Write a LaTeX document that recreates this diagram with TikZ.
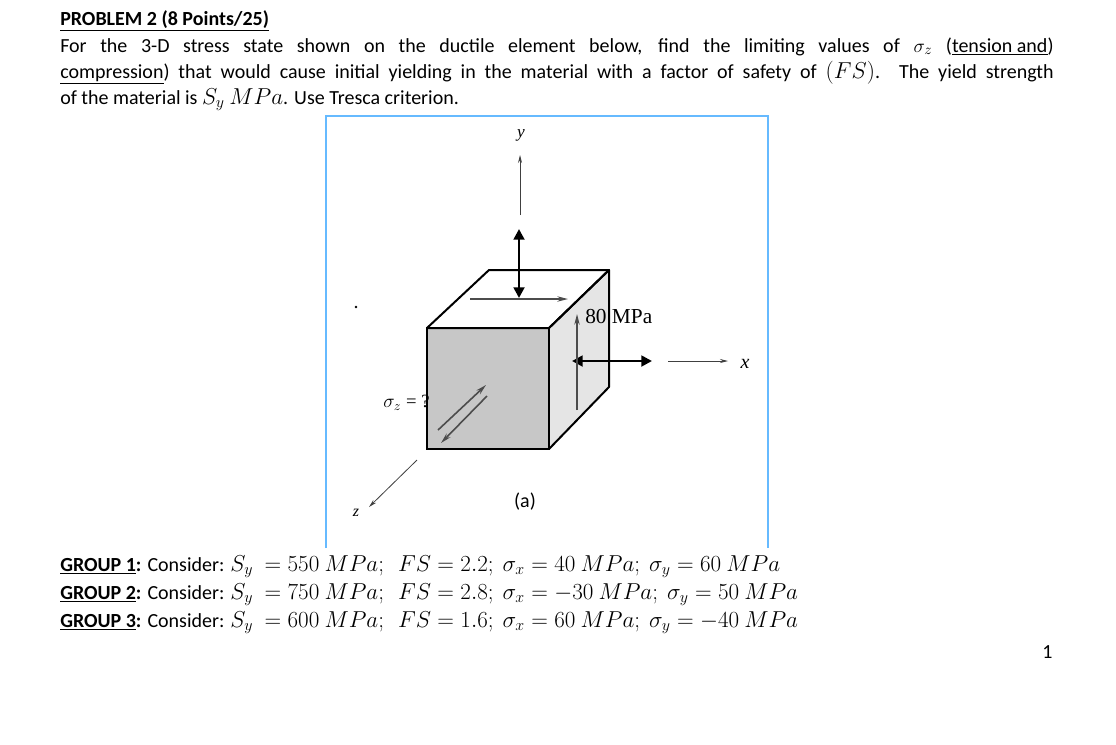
\documentclass[tikz,border=0pt]{standalone}
\usepackage{fontspec}
\setmainfont{Carlito}
\newfontfamily\figfont{Liberation Serif}
\usetikzlibrary{arrows.meta}
\newcommand{\myul}[1]{\underline{#1}}
\newcommand{\mybigmath}[1]{{\fontsize{17}{18}\selectfont$#1$}}
\begin{document}
\begin{tikzpicture}[x=0.75pt,y=-0.75pt,
  txt/.style={inner sep=0pt,anchor=base west,font=\fontsize{15}{18}\selectfont},
  thin/.style={draw=black!75,line width=0.6pt,-{Stealth[length=6pt,width=3pt]}},
  thick2/.style={draw=black,line width=2.2pt,{Triangle[length=8pt,width=8pt]}-{Triangle[length=8pt,width=8pt]}},
  grayarr/.style={draw=black!70,line width=1.2pt,-{Stealth[length=8pt,width=4pt]}},
  fig/.style={inner sep=0pt,font=\figfont\fontsize{14}{15}\selectfont}]
\useasboundingbox (0,0) rectangle (1116,744);
\fill[white] (0,0) rectangle (1116,744);
% text
\node[txt] (title) at (60,25) {\textbf{\myul{PROBLEM 2 (8 Points/25)}}};
\node[txt] (l1) at (60,52) {\makebox[745pt][s]{For the 3-D stress state shown on the ductile element below, find the limiting values of $\sigma_z$ (\myul{tension and})}};
\node[txt] (l2) at (60,78) {\makebox[745pt][s]{\myul{compression}) that would cause initial yielding in the material with a factor of safety of \mybigmath{(FS)}. The yield strength}};
\node[txt] (l3) at (60,104) {of the material is \mybigmath{S_y} \mybigmath{MPa}. Use Tresca criterion.};
\node[txt] (g1) at (60,571) {\textbf{\myul{GROUP 1}:} Consider: \mybigmath{S_y\ =550\ MPa;\ \ FS=2.2;\ \sigma_x=40\ MPa;\ \sigma_y=60\ MPa}};
\node[txt] (g2) at (60,599) {\textbf{\myul{GROUP 2}:} Consider: \mybigmath{S_y\ =750\ MPa;\ \ FS=2.8;\ \sigma_x=-30\ MPa;\ \sigma_y=50\ MPa}};
\node[txt] (g3) at (60,627) {\textbf{\myul{GROUP 3}:} Consider: \mybigmath{S_y\ =600\ MPa;\ \ FS=1.6;\ \sigma_x=60\ MPa;\ \sigma_y=-40\ MPa}};
\node[txt] (pg) at (1042,658) {1};
% figure frame
\draw[color=blue!45!cyan!60,line width=1pt] (326,548) -- (326,116) -- (768,116) -- (768,548);
% cube
\coordinate (A) at (427,328); \coordinate (B) at (549,328);
\coordinate (C) at (549,449); \coordinate (D) at (427,449);
\coordinate (E) at (489,270); \coordinate (F) at (609,270); \coordinate (G) at (609,387);
\fill[black!10] (B) -- (F) -- (G) -- (C) -- cycle;
\fill[black!22] (A) rectangle (C);
\draw[line width=1.5pt,line join=round] (A) -- (E) -- (F) -- (B) -- cycle;
\draw[line width=1.5pt,line join=round] (B) -- (F) -- (G) -- (C);
\draw[line width=1.8pt] (A) rectangle (C);
% axes
\coordinate (y0) at (520,215); \coordinate (y1) at (520,155);
\draw[thin] (y0) -- (y1);
\node[fig,font=\figfont\itshape\fontsize{13}{15}\selectfont] (ylab) at (521,135) {y};
\coordinate (x0) at (668,361); \coordinate (x1) at (728,361);
\draw[thin] (x0) -- (x1);
\node[fig,font=\figfont\itshape\fontsize{15}{15}\selectfont] (xlab) at (745,364) {x};
\coordinate (z0) at (417,460); \coordinate (z1) at (369,507);
\draw[thin] (z0) -- (z1);
\node[fig,font=\figfont\itshape\fontsize{12}{15}\selectfont] (zlab) at (356,513) {z};
\node[fig,font=\fontsize{15}{15}\selectfont] (alab) at (525,502) {(a)};
\node[fig,font=\figfont\fontsize{16}{16}\selectfont,anchor=west] (mpa) at (585,316) {80 MPa};
\node[fig,anchor=west] (sz) at (383,403) {$\sigma_z$ = ?};
\fill (356,307) circle (1pt);
% stress arrows
\coordinate (v0) at (519,298); \coordinate (v1) at (519,229);
\draw[thick2] (v0) -- (v1);
\coordinate (h0) at (572,361); \coordinate (h1) at (652,361);
\draw[thick2] (h0) -- (h1);
\coordinate (t0) at (470,299); \coordinate (t1) at (568,299);
\draw[grayarr] (t0) -- (t1);
\coordinate (r0) at (577,410); \coordinate (r1) at (577,314);
\draw[grayarr] (r0) -- (r1);
\coordinate (d0) at (438,430); \coordinate (d1) at (486,385);
\draw[grayarr] (d0) -- (d1);
\coordinate (e0) at (487,396); \coordinate (e1) at (441,443);
\draw[grayarr] (e0) -- (e1);
\end{tikzpicture}
\end{document}
